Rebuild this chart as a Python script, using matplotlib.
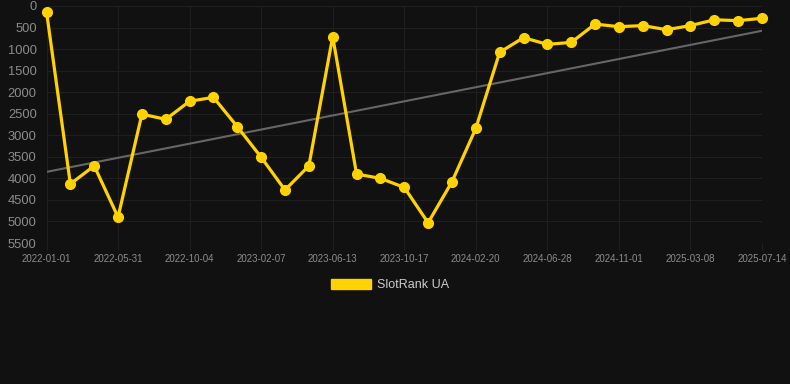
"""SlotRank UA rank history with trend line, dark theme."""

import matplotlib

matplotlib.use("Agg")
import matplotlib.pyplot as plt
from matplotlib.patches import Patch


TICK_DATES = [
    "2022-01-01", "2022-05-31", "2022-10-04", "2023-02-07", "2023-06-13", "2023-10-17",
    "2024-02-20", "2024-06-28", "2024-11-01", "2025-03-08", "2025-07-14",
]
RANK = [
    130, 4130, 3710, 4900, 2510, 2630, 2210, 2120, 2800, 3510,
    4270, 3710, 710, 3900, 4000, 4210, 5030, 4080, 2840, 1075,
    735, 890, 845, 420, 480, 455, 550, 455, 320, 340, 285,
]
TREND = [3850, 575]

BG = "#111111"
YELLOW = "#FFD200"
GRID = "#1f1f1f"
TEXT = "#8c8c8c"

plt.rcParams["font.family"] = ["Liberation Sans", "DejaVu Sans"]

fig = plt.figure(figsize=(7.9, 3.84), dpi=100, facecolor=BG)
ax = fig.add_axes([46.5 / 790, 1 - 243 / 384, (762 - 46.5) / 790, (243 - 6) / 384])
ax.set_facecolor(BG)

x = list(range(len(RANK)))
ax.plot([x[0], x[-1]], TREND, color="#666666", linewidth=1.5, zorder=2)
ax.plot(x, RANK, color=YELLOW, linewidth=2.3, marker="o", markersize=7,
        markerfacecolor=YELLOW, markeredgecolor=YELLOW, zorder=3, clip_on=False)

ax.set_xlim(0, len(RANK) - 1)
ax.set_ylim(5500, 0)
ax.set_yticks(range(0, 5501, 500))
ax.set_xticks(x[::3])
ax.set_xticklabels(TICK_DATES)

ax.grid(True, color=GRID, linewidth=0.8)
for spine in ax.spines.values():
    spine.set_visible(False)
ax.tick_params(axis="x", colors=GRID, labelcolor=TEXT, labelsize=7, length=5, pad=3)
ax.tick_params(axis="y", length=0, labelcolor=TEXT, labelsize=9.3, pad=7)

fig.legend(
    handles=[Patch(facecolor=YELLOW, edgecolor=YELLOW, label="SlotRank UA")],
    loc="center",
    bbox_to_anchor=(390 / 790, 1 - 285 / 384),
    frameon=False,
    fontsize=9,
    labelcolor="#cccccc",
    handlelength=3.2,
    handleheight=0.95,
    handletextpad=0.45,
)

fig.savefig("out.png", facecolor=BG)
